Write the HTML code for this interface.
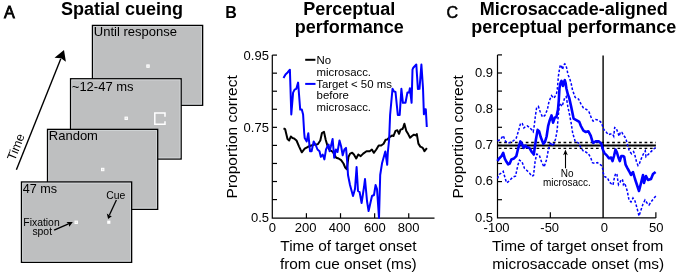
<!DOCTYPE html>
<html><head><meta charset="utf-8"><style>
html,body{margin:0;padding:0;background:#fff;width:679px;height:275px;overflow:hidden;}
svg{display:block;will-change:transform;}
</style></head><body>
<svg width="679" height="275" viewBox="0 0 679 275" font-family='"Liberation Sans", sans-serif'><rect width="679" height="275" fill="#fff"/><g font-weight="bold" font-size="16" fill="#000"><text x="3.9" y="17.5" font-size="16.2" font-weight="normal" stroke="#000" stroke-width="0.8">A</text><text x="225.2" y="17.9">B</text><text x="446.4" y="17.6" font-weight="normal" font-size="16" stroke="#000" stroke-width="0.55">C</text></g><g font-weight="bold" font-size="18" fill="#000" text-anchor="middle"><text x="122" y="15.1">Spatial cueing</text><text x="349.2" y="15">Perceptual</text><text x="349.2" y="32.7">performance</text><text x="573.8" y="15">Microsaccade-aligned</text><text x="573.8" y="32.7">perceptual performance</text></g><rect x="92.45" y="25.4" width="110.2" height="79.9" fill="#bebfc0" stroke="#000" stroke-width="1.3"/><rect x="93.70" y="26.65" width="107.70" height="77.45" fill="none" stroke="#d4d7d9" stroke-width="0.8"/><text x="93.8" y="35.7" font-size="13" fill="#000">Until response</text><rect x="70.55" y="78.75" width="110.6" height="80.3" fill="#bebfc0" stroke="#000" stroke-width="1.3"/><rect x="71.80" y="80.00" width="108.15" height="77.85" fill="none" stroke="#d4d7d9" stroke-width="0.8"/><text x="71.8" y="90.5" font-size="13" fill="#000">~12-47 ms</text><rect x="47.5" y="129.35" width="110.2" height="80.0" fill="#bebfc0" stroke="#000" stroke-width="1.3"/><rect x="48.75" y="130.60" width="107.65" height="77.50" fill="none" stroke="#d4d7d9" stroke-width="0.8"/><text x="48.8" y="139.7" font-size="13" fill="#000">Random</text><rect x="21.45" y="181.95" width="110.2" height="80.4" fill="#bebfc0" stroke="#000" stroke-width="1.3"/><rect x="22.70" y="183.20" width="107.70" height="77.90" fill="none" stroke="#d4d7d9" stroke-width="0.8"/><text x="22.8" y="192.9" font-size="12.6" fill="#000">47 ms</text><rect x="146.8" y="64.9" width="2.4" height="2.4" fill="#e4e4e4" stroke="#fff" stroke-width="1"/><rect x="125.0" y="117.1" width="2.4" height="2.4" fill="#e4e4e4" stroke="#fff" stroke-width="1"/><rect x="101.5" y="168.3" width="2.4" height="2.4" fill="#e4e4e4" stroke="#fff" stroke-width="1"/><rect x="75.0" y="221.1" width="2.4" height="2.4" fill="#e4e4e4" stroke="#fff" stroke-width="1"/><rect x="107.2" y="220.6" width="3.2" height="3.2" fill="#fff"/><path d="M165,116.8 V113 H154.8 V124.3 H165 V121.2" fill="none" stroke="#fff" stroke-width="1.5"/><g font-size="10.4" fill="#000" text-anchor="middle"><text x="41.5" y="225.9">Fixation</text><text x="42.2" y="234.6">spot</text><text x="115.7" y="198.9">Cue</text></g><line x1="54.1" y1="230.2" x2="68.5" y2="223.9" stroke="#000" stroke-width="1.3"/><polygon points="72.8,222 66.5,222.1 68.6,224 69.3,226.8" fill="#000"/><line x1="116.4" y1="199.9" x2="109.4" y2="215" stroke="#000" stroke-width="1.3"/><polygon points="108.1,219.1 106.8,213.4 109.3,215.2 111.8,216.2" fill="#000"/><line x1="16.4" y1="169.8" x2="60.8" y2="58.8" stroke="#000" stroke-width="1.4"/><polygon points="64,50 54.5,57.7 61,58.3 65.9,61.8" fill="#000"/><text transform="translate(14.8,161.2) rotate(-68.3)" font-size="12.5" fill="#000">Time</text><g stroke="#000" stroke-width="1.2" fill="none"><path d="M272.3,55.1 V218.2 H434.5"/><line x1="272.3" y1="55.10" x2="277" y2="55.10"/><line x1="272.3" y1="73.16" x2="277" y2="73.16"/><line x1="272.3" y1="91.22" x2="277" y2="91.22"/><line x1="272.3" y1="109.28" x2="277" y2="109.28"/><line x1="272.3" y1="127.34" x2="277" y2="127.34"/><line x1="272.3" y1="145.40" x2="277" y2="145.40"/><line x1="272.3" y1="163.46" x2="277" y2="163.46"/><line x1="272.3" y1="181.52" x2="277" y2="181.52"/><line x1="272.3" y1="199.58" x2="277" y2="199.58"/><line x1="306.41" y1="218.1" x2="306.41" y2="213.2"/><line x1="340.52" y1="218.1" x2="340.52" y2="213.2"/><line x1="374.63" y1="218.1" x2="374.63" y2="213.2"/><line x1="408.74" y1="218.1" x2="408.74" y2="213.2"/></g><g font-size="13" fill="#000" text-anchor="end"><text x="268.9" y="59.6">0.95</text><text x="268.9" y="131.75">0.75</text><text x="269.1" y="221.65">0.5</text></g><g font-size="13" fill="#000" text-anchor="middle"><text x="272.45" y="232.3">0</text><text x="305.55" y="232.3">200</text><text x="339.65" y="232.3">400</text><text x="374.9" y="232.3">600</text><text x="408.6" y="232.3">800</text></g><text transform="translate(237.2,136.8) rotate(-90)" text-anchor="middle" font-size="15.5" fill="#000">Proportion correct</text><g font-size="15.4" fill="#000" text-anchor="middle"><text x="348.5" y="251">Time of target onset</text><text x="348.3" y="269.3">from cue onset (ms)</text></g><line x1="305.2" y1="59.8" x2="315.4" y2="59.8" stroke="#000" stroke-width="2"/><line x1="305.2" y1="83.9" x2="315.5" y2="83.9" stroke="#0000ff" stroke-width="2"/><g font-size="11.4" fill="#000"><text x="316.6" y="64.2">No</text><text x="316.6" y="75.6">microsacc.</text><text x="316.2" y="87.7">Target &lt; 50 ms</text><text x="316.6" y="99.1">before</text><text x="316.6" y="110.6">microsacc.</text></g><polyline points="283.5,128.3 285.1,129.1 287.5,138.9 289.2,140.5 290.8,136.5 292.5,138.1 294.1,138.4 296.5,140.5 299.0,146.3 301.8,152.3 304.7,148.7 308.0,146.8 311.3,145.5 314.6,144.6 317.8,144.3 320.3,140.5 321.9,133.2 324.0,131.9 325.7,139.7 327.6,146.3 329.3,149.5 330.5,150.4 332.9,152.0 336.2,157.7 338.6,158.5 341.1,160.2 343.5,163.5 345.2,167.6 346.8,169.2 348.5,156.9 350.1,153.6 352.2,152.8 353.9,154.5 356.2,158.5 358.3,154.5 360.7,156.1 363.2,153.6 366.5,151.2 369.7,151.2 371.9,149.5 373.8,152.8 376.3,149.5 378.7,145.5 381.2,145.5 383.6,143.8 385.6,139.7 387.2,139.4 390.4,136.6 392.3,135.4 393.5,136.0 395.5,130.9 397.4,130.3 399.0,133.8 400.5,129.6 402.5,129.0 403.3,127.1 404.4,123.7 406.3,130.9 408.2,134.1 410.1,137.7 412.0,136.0 413.9,134.7 415.6,135.4 416.8,134.1 418.4,143.6 420.3,146.6 421.9,147.3 423.0,148.3 424.5,151.2 426.9,148.2" fill="none" stroke="#000" stroke-width="2" stroke-linejoin="round"/><polyline points="283.5,78.0 285.5,74.5 287.6,72.5 289.9,69.7 291.3,114.5 293.1,92.6 294.6,89.6 296.3,88.8 298.1,82.6 300.2,109.6 301.8,109.6 303.1,114.5 304.2,133.0 304.7,138.1 306.7,141.4 308.3,133.2 310.0,151.2 311.6,151.2 313.7,141.4 315.9,145.5 317.5,149.5 319.5,151.2 320.8,156.9 322.7,154.5 324.4,159.4 326.0,149.5 327.6,146.3 328.6,144.6 329.6,151.2 330.9,146.3 332.6,138.9 334.2,157.7 335.9,149.5 337.5,152.0 339.5,140.5 341.1,146.3 342.7,155.3 344.4,149.5 346.0,147.9 347.3,162.6 348.0,175.0 350.0,185.0 353.0,196.0 355.0,189.0 356.6,167.0 358.0,191.0 359.6,192.0 361.6,203.0 364.0,187.0 365.0,179.0 367.0,201.0 368.6,211.0 370.4,203.0 372.0,196.0 374.0,195.0 375.6,185.0 377.0,189.0 379.0,218.0 380.2,175.0 382.1,162.9 385.3,151.5 387.2,164.8 387.8,152.7 389.1,140.0 390.1,115.0 392.5,88.8 394.0,91.4 395.5,92.0 397.8,114.9 399.7,114.9 401.4,88.8 402.9,102.8 405.5,102.8 407.4,92.6 409.0,92.6 409.9,88.2 411.6,102.8 412.5,69.6 413.3,67.7 416.3,64.5 417.9,89.0 419.5,88.8 421.4,64.5 423.0,88.0 423.9,114.3 424.5,109.2 425.8,109.2 426.8,127.0" fill="none" stroke="#0000ff" stroke-width="2" stroke-linejoin="round"/><g stroke="#000" stroke-width="1.2" fill="none"><path d="M497.5,54.9 V217.9 H655.8"/><line x1="497.5" y1="54.90" x2="502" y2="54.90"/><line x1="497.5" y1="73.00" x2="502" y2="73.00"/><line x1="497.5" y1="91.10" x2="502" y2="91.10"/><line x1="497.5" y1="109.20" x2="502" y2="109.20"/><line x1="497.5" y1="127.30" x2="502" y2="127.30"/><line x1="497.5" y1="145.40" x2="502" y2="145.40"/><line x1="497.5" y1="163.50" x2="502" y2="163.50"/><line x1="497.5" y1="181.60" x2="502" y2="181.60"/><line x1="497.5" y1="199.70" x2="502" y2="199.70"/><line x1="550.34" y1="217.9" x2="550.34" y2="212.3"/><line x1="655.87" y1="217.9" x2="655.87" y2="212.3"/></g><line x1="603.1" y1="55.5" x2="603.1" y2="217.9" stroke="#000" stroke-width="1.4"/><g font-size="13" fill="#000" text-anchor="end"><text x="493.1" y="76.8">0.9</text><text x="493.1" y="113.0">0.8</text><text x="493.1" y="149.2">0.7</text><text x="493.1" y="185.4">0.6</text><text x="493.1" y="221.6">0.5</text></g><g font-size="13" fill="#000" text-anchor="middle"><text x="496.6" y="232.4">-100</text><text x="549.7" y="232.4">-50</text><text x="604.35" y="232.4">0</text><text x="656.3" y="232.4">50</text></g><text transform="translate(462.7,136.8) rotate(-90)" text-anchor="middle" font-size="15.5" fill="#000">Proportion correct</text><g font-size="15.4" fill="#000" text-anchor="middle"><text x="577.6" y="251.3">Time of target onset from</text><text x="578.2" y="269.3">microsaccade onset (ms)</text></g><line x1="497.5" y1="145.5" x2="655.9" y2="145.5" stroke="#000" stroke-width="1.8"/><line x1="497.5" y1="142.5" x2="655.9" y2="142.5" stroke="#000" stroke-width="1.3" stroke-dasharray="2.7 2.7" stroke-dashoffset="4.15"/><line x1="497.5" y1="148.3" x2="655.9" y2="148.3" stroke="#000" stroke-width="1.3" stroke-dasharray="2.7 2.7" stroke-dashoffset="4.15"/><polyline points="497.5,141.0 500.5,139.4 503.2,135.6 505.6,141.4 508.1,143.0 511.4,142.2 513.8,140.5 516.3,138.0 518.4,131.3 520.6,123.1 522.3,123.6 523.9,128.0 525.5,126.4 527.2,125.8 529.4,127.4 531.5,129.6 533.2,131.8 534.3,125.3 535.3,116.5 536.7,107.2 538.4,106.4 540.0,111.3 542.5,117.0 544.9,115.4 547.4,109.6 549.0,101.5 551.5,95.7 553.9,98.2 556.4,94.1 557.3,89.4 558.4,76.3 559.4,69.7 560.3,64.9 561.2,65.5 562.6,69.5 563.6,65.0 564.8,63.8 566.0,65.5 567.1,69.7 567.9,74.6 569.5,77.9 571.2,83.6 572.5,90.0 575.2,97.4 578.5,99.0 580.9,103.9 583.4,108.0 586.7,109.6 589.1,112.1 591.6,118.6 593.2,121.1 595.7,119.5 598.9,120.3 601.4,122.7 603.8,129.6 606.0,131.8 608.2,134.7 610.4,134.0 612.5,134.0 613.7,136.2 614.7,127.5 616.2,128.2 617.6,131.8 619.1,136.2 620.5,131.8 622.0,132.5 623.5,135.5 624.9,136.9 626.4,140.5 627.8,146.0 629.3,150.9 631.5,153.8 633.6,151.6 635.1,156.0 636.5,161.8 638.0,165.5 639.5,163.3 640.9,159.6 642.4,156.0 643.8,153.1 645.3,150.9 646.0,156.7 647.5,155.3 649.6,153.1 651.8,150.9 654.0,148.7 655.6,147.5" fill="none" stroke="#0000ff" stroke-width="1.5" stroke-dasharray="2.6 1.8"/><polyline points="497.5,178.6 499.1,174.5 501.5,172.9 503.2,171.3 504.8,177.0 506.5,182.7 508.1,181.9 510.5,179.5 513.0,177.0 515.5,176.2 517.9,165.0 519.5,160.2 522.0,161.8 524.5,168.4 526.9,170.5 529.4,172.9 531.8,176.2 533.5,175.4 535.1,161.5 536.7,154.1 539.2,154.9 541.6,162.0 544.1,167.0 546.6,159.5 548.2,150.5 550.6,142.2 553.1,146.3 555.6,138.9 557.2,129.9 558.0,118.6 559.6,103.1 562.1,106.4 564.6,98.2 566.2,96.5 567.8,106.4 569.5,114.5 571.1,122.7 572.7,133.2 575.2,141.4 578.5,143.0 580.9,147.9 583.4,151.2 585.8,152.0 588.3,153.6 590.7,157.7 592.4,162.6 594.8,163.5 597.3,162.6 599.7,164.3 602.2,166.0 603.3,173.0 604.4,176.5 607.6,178.0 609.3,181.9 611.0,183.5 613.0,185.0 614.5,177.0 615.8,173.2 617.0,174.5 617.6,179.0 618.5,184.6 620.2,182.0 621.3,179.2 622.6,180.0 623.4,184.6 624.5,183.0 625.6,185.7 627.3,191.2 629.0,200.0 631.0,202.0 633.0,198.0 635.0,201.0 637.0,208.0 639.0,216.0 641.0,210.0 643.0,204.0 645.0,200.0 647.0,203.0 649.0,205.0 651.0,202.0 654.0,198.0 656.0,196.0" fill="none" stroke="#0000ff" stroke-width="1.5" stroke-dasharray="2.6 1.8"/><polyline points="497.5,161.0 499.1,158.5 501.5,156.1 503.2,152.8 504.8,158.6 506.5,161.8 508.1,164.3 509.7,163.5 511.4,159.4 513.8,158.6 516.3,156.1 517.9,149.5 520.4,141.4 522.0,143.8 523.6,147.9 525.3,145.5 526.9,147.1 529.4,147.9 531.8,152.0 533.8,154.5 535.9,139.7 537.6,129.9 539.2,131.5 540.8,137.3 543.3,143.8 544.9,142.2 546.6,136.5 548.2,125.8 549.5,121.0 551.5,115.4 553.1,122.7 554.7,117.8 556.4,117.0 558.0,109.6 558.8,100.0 559.5,88.0 560.5,83.0 561.5,80.9 562.3,83.5 563.0,86.0 563.9,82.0 564.8,80.1 565.6,83.0 566.4,88.5 567.9,94.6 569.2,97.9 571.1,106.4 573.6,118.6 576.8,120.3 579.3,121.9 580.9,126.0 583.4,130.7 585.8,132.0 588.3,131.2 590.7,135.6 592.4,141.4 593.2,143.0 595.7,141.4 598.9,141.4 601.4,143.8 603.1,150.2 604.5,153.1 606.7,155.3 608.9,158.2 611.1,157.5 612.5,161.1 614.0,156.0 615.5,149.5 616.9,152.4 618.4,157.5 619.8,161.1 621.3,156.0 622.7,156.0 624.2,156.7 625.6,164.7 627.1,167.6 629.0,171.0 631.0,175.0 633.0,172.0 635.0,179.0 637.0,185.0 639.0,191.0 641.0,183.0 643.0,175.0 644.0,183.0 646.0,176.0 648.0,180.0 651.0,179.0 653.0,174.0 655.6,172.0" fill="none" stroke="#0000ff" stroke-width="2.6" stroke-linejoin="round"/><line x1="565.5" y1="168.3" x2="565.5" y2="153" stroke="#000" stroke-width="1.1"/><polygon points="565.45,149.5 563.1,155.2 565.45,153.8 567.8,155.2" fill="#000"/><g font-size="10" fill="#000" text-anchor="middle"><text x="567.2" y="176.6">No</text><text x="566.9" y="185.6">microsacc.</text></g></svg>
</body></html>
